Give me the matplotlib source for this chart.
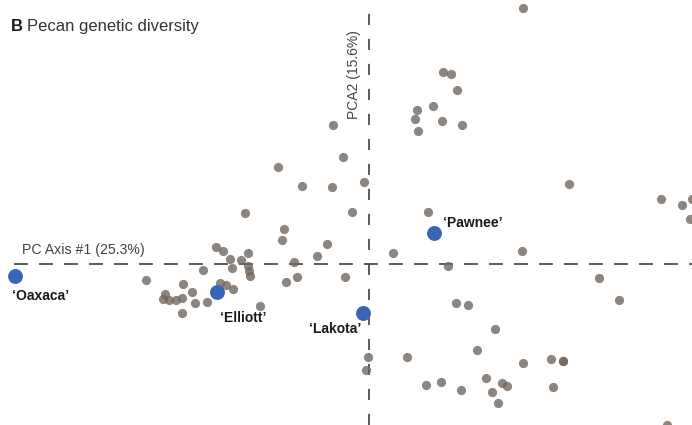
import matplotlib
matplotlib.use("Agg")
import matplotlib.pyplot as plt

plt.rcParams['font.family'] = ['Liberation Sans', 'DejaVu Sans']
plt.rcParams['lines.scale_dashes'] = False

# PCA scores of the pecan accessions (PC1, PC2)
pc1 = [15.4, 7.4, 8.2, 8.8, 6.4, 4.8, 4.6, 7.3, 9.3, 4.9,
       -3.6, -2.6, -9.1, -6.7, -3.7, -0.5, -12.4, -1.7, -8.5, -8.7,
       -4.2, -15.3, -14.6, -12.1, -5.2, -13.9, -12.8, -7.5, -16.6, -13.7,
       -12.1, -12.0, -11.9, -7.2, -2.4, -22.3, -8.3, -13.6, -18.6, -14.9,
       -14.3, -17.7, -20.4, -20.6, -20.0, -19.3, -18.7, -17.4, -16.2, -10.9,
       -18.7, 5.9, 20.0, 15.3, 2.4, 7.9, 23.0, 29.2, 31.3, 32.3,
       32.1, 25.0, 8.7, 9.9, 12.6, 10.8, -0.1, 3.8, -0.3, 15.4,
       18.2, 19.4, 19.4, 11.7, 13.3, 13.8, 5.7, 7.2, 9.2, 12.3,
       18.4, 12.9, 29.8]
pc2 = [25.6, 19.2, 19.0, 17.4, 15.8, 15.4, 14.5, 14.3, 13.9, 13.3,
       13.9, 10.7, 9.7, 7.8, 7.7, 8.2, 5.1, 5.2, 3.5, 2.4,
       2.0, 1.7, 1.3, 1.1, 0.8, 0.5, 0.4, 0.2, -0.6, -0.4,
       -0.2, -0.7, -1.2, -1.3, -1.3, -1.6, -1.8, -2.5, -2.0, -1.9,
       -2.1, -2.8, -3.0, -3.5, -3.6, -3.6, -3.4, -3.9, -3.8, -4.2,
       -4.9, 5.2, 8.0, 1.3, 1.1, -0.2, -1.4, 6.5, 5.9, 6.5,
       4.5, -3.6, -3.9, -4.1, -6.5, -8.6, -9.3, -9.3, -10.6, -9.9,
       -9.5, -9.7, -9.7, -11.4, -11.9, -12.2, -12.1, -11.8, -12.6, -12.8,
       -12.3, -13.9, -16.1]

# named cultivars
cultivars = ["\u2018Oaxaca\u2019", "\u2018Elliott\u2019", "\u2018Lakota\u2019", "\u2018Pawnee\u2019"]
cult_pc1 = [-35.4, -15.2, -0.6, 6.5]
cult_pc2 = [-1.2, -2.8, -4.9, 3.1]
# label offsets in pixels and alignment
label_off = [(-3, -20), (26, -26), (-2, -16), (9, 10)]
label_ha = ['left', 'center', 'right', 'left']

fig = plt.figure(figsize=(6.92, 4.25), dpi=100)
ax = fig.add_axes([0, 0, 1, 1])
ax.set_xlim(-36.9, 32.3)
ax.set_ylim(-16.1, 26.4)
ax.axis('off')

# axis lines through the origin
ax.plot([-35.5, 32.3], [0, 0], color='#4d4d4d', lw=1.3, dashes=(10, 8), zorder=1)
ax.plot([0, 0], [-16.1, 26.4], color='#4d4d4d', lw=1.3, dashes=(8, 10), zorder=1)

ax.scatter(pc1, pc2, s=44, color='#72675f', alpha=0.8, linewidths=0, zorder=2)
ax.scatter(cult_pc1, cult_pc2, s=115, color='#3a64b4', linewidths=0, zorder=3)

for name, x, y, off, ha in zip(cultivars, cult_pc1, cult_pc2, label_off, label_ha):
    ax.annotate(name, (x, y), xytext=off, textcoords='offset pixels',
                ha=ha, va='center', fontsize=10, fontweight='bold', color='#1a1a1a')

ax.text(-34.7, 0.7, 'PC Axis #1 (25.3%)', fontsize=10.2, color='#444444',
        ha='left', va='bottom')
ax.text(-1.5, 18.9, 'PCA2 (15.6%)', fontsize=10, color='#444444',
        rotation=90, ha='center', va='center')

fig.text(11 / 692, 1 - 31 / 425, 'B', fontsize=12, fontweight='bold',
         color='#1a1a1a', ha='left', va='baseline')
fig.text(27 / 692, 1 - 31 / 425, 'Pecan genetic diversity', fontsize=12,
         color='#333333', ha='left', va='baseline')

fig.savefig('out.png', dpi=100, facecolor='white')
